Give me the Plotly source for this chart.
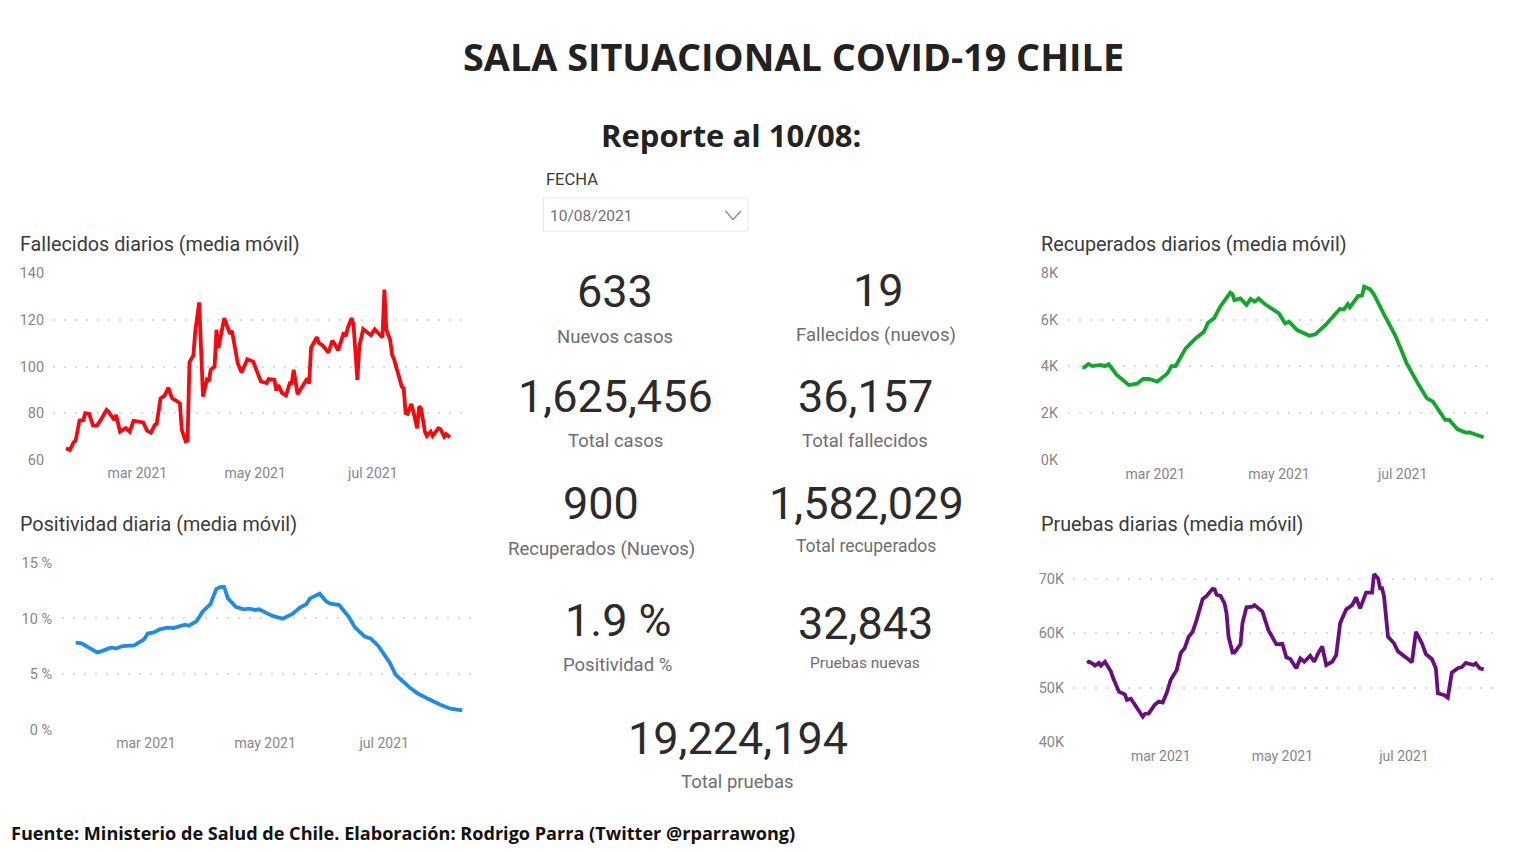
import pandas as pd
import plotly.graph_objects as go

W, H = 1517, 852
START = pd.Timestamp("2021-01-23")

# ---------- data: days since 2021-01-23, and the value read on that day ----------
fall_days = [0,2,4,5,7,9,10,12,14,16,18,21,22,25,26,28,31,33,35,40,42,44,46,47,49,51,53,55,57,59,60,62,63,64,66,67,69,71,73,74,75,77,78,79,82,85,86,89,91,94,97,101,104,105,108,109,110,112,114,116,117,118,120,123,125,126,127,130,131,133,136,138,139,141,144,145,146,148,149,151,152,154,158,160,164,165,166,168,169,170,174,175,176,177,179,180,182,183,184,186,187,189,190,193,194,196,197,199]
fall_vals = [65,64.3,67.6,68.3,76.9,77.1,80,79.7,74.7,74.7,77.1,81.4,80.7,77.1,79.3,72.1,73.6,72.1,76.7,76.1,72.6,71.7,75,75.4,86.4,87.4,90.9,86.4,85.4,84.3,72.9,68,68.3,101.9,104.7,115.1,127.4,87.1,94.3,93.6,98.6,100,115.7,107.9,120.7,114,115.3,101.4,97.4,103.1,102.1,93.6,92.9,94.6,94.3,89.7,92.1,88.6,87.6,92.9,92.9,98.6,88.1,92,94.9,92.7,108,112.6,110.1,109,106,111,110,106.9,114.6,112.9,116.4,120.7,117.9,94.3,108.6,116,113.4,115.9,112.4,132.9,115.7,111.4,105,103.1,91.4,90.7,80,79.7,84,80.7,73.6,82.9,82.1,72.1,70.3,72.1,70.3,73.6,73.3,70,71.1,69.7]

pos_days = [1,4,12,14,19,22,25,31,36,38,41,44,48,51,57,59,63,66,70,73,75,77,79,83,87,90,93,95,100,103,107,112,116,119,121,126,129,131,136,139,141,144,149,152,156,162,165,172,176,182,188,193,199]
pos_vals = [7.83,7.77,6.96,7.05,7.38,7.32,7.53,7.59,8.13,8.66,8.75,9.02,9.17,9.14,9.44,9.35,9.77,10.6,11.29,12.64,12.82,12.85,11.8,11.05,10.82,10.88,10.76,10.82,10.37,10.16,9.98,10.4,11,11.26,11.8,12.22,11.59,11.35,11.2,10.46,10.1,9.2,8.37,8.22,7.53,5.98,4.93,3.82,3.29,2.75,2.24,1.91,1.76]

rec_days = [1,2,4,6,10,12,14,18,21,24,28,31,34,38,43,45,47,52,57,61,63,66,69,74,75,76,79,82,84,86,88,91,98,101,103,107,113,116,121,128,130,132,133,137,139,140,143,145,150,155,158,161,167,171,174,180,182,186,190,192,199]
rec_vals = [3960,3960,4100,4010,4060,4010,4090,3630,3420,3200,3260,3460,3460,3350,3700,4010,4010,4770,5200,5480,5860,6050,6550,7150,7090,6830,6900,6620,6880,6760,6900,6660,6260,5840,5910,5550,5310,5370,5770,6450,6430,6660,6520,7000,7020,7400,7290,7050,6190,5380,4770,4130,3200,2630,2490,1710,1710,1320,1170,1180,970]

test_days = [0,1,3,4,6,7,9,12,13,16,19,20,22,25,28,29,31,34,36,38,40,42,45,47,49,51,53,55,58,60,63,64,65,67,69,70,71,73,74,77,78,80,83,84,85,88,91,95,98,100,102,105,107,109,112,114,116,118,120,123,125,127,130,133,135,137,140,143,144,146,147,148,149,151,154,156,160,163,165,168,170,173,175,176,179,181,183,186,188,190,194,195,197,199]
test_vals = [54600,54800,54400,54100,54600,54100,54800,53000,51900,49300,48800,47800,48000,46200,44700,45200,45300,46900,47500,47300,49100,51500,53300,56400,57300,59400,60300,62500,66300,66900,68200,68100,67100,66900,65500,63700,59400,56500,56500,58000,61900,64800,64900,65200,64900,64000,60600,58000,58100,55600,55300,53600,55400,54800,55900,54800,56400,57600,54200,54800,56000,61900,64400,65200,66600,64600,67500,67500,70900,70100,68300,68300,66800,59400,58200,56700,55600,54700,60300,58200,56200,55300,53600,49000,48700,48200,52800,53600,53800,54600,54200,54500,53600,53400]

month_ticks = ["2021-03-01", "2021-05-01", "2021-07-01"]
month_labels = ["mar 2021", "may 2021", "jul 2021"]

fall_ticks = [60, 80, 100, 120, 140]
fall_labels = ["60", "80", "100", "120", "140"]
pos_ticks = [0, 5, 10, 15]
pos_labels = ["0 %", "5 %", "10 %", "15 %"]
rec_ticks = [0, 2000, 4000, 6000, 8000]
rec_labels = ["0K", "2K", "4K", "6K", "8K"]
test_ticks = [40000, 50000, 60000, 70000]
test_labels = ["40K", "50K", "60K", "70K"]

RED, BLUE, GREEN, PURPLE = "#F20A0F", "#1E8CE6", "#0FA82A", "#680E7E"
BODY = "Roboto"
HEAD = "Open Sans"
INK = "#2b2b2b"
GREY = "#6e6e6e"
TICK = "#868686"

def dates(days):
    return [START + pd.Timedelta(days=int(d)) for d in days]

def fx(px): return px / W
def fy(py): return 1 - py / H

# panel geometry in page pixels: grid left/right, first/last data pixel, top/bottom of y range
# (the last panel's range runs on past its top tick, so that the 70.9K peak is not cut off)
panels = [
    dict(days=fall_days, vals=fall_vals, color=RED,    ticks=fall_ticks, labels=fall_labels, l=53,   r=462,  x0=66,    x1=450,    top=273,   bot=460,   yr=[60, 140],       ylen=5, xlen=0),
    dict(days=pos_days,  vals=pos_vals,  color=BLUE,   ticks=pos_ticks,  labels=pos_labels,  l=62,   r=477,  x0=73.7,  x1=462.3,  top=562.7, bot=730,   yr=[0, 15],         ylen=6, xlen=0),
    dict(days=rec_days,  vals=rec_vals,  color=GREEN,  ticks=rec_ticks,  labels=rec_labels,  l=1068, r=1497, x0=1080.3,x1=1483.7, top=272.7, bot=460,   yr=[0, 8000],       ylen=6, xlen=1),
    dict(days=test_days, vals=test_vals, color=PURPLE, ticks=test_ticks, labels=test_labels, l=1073, r=1497, x0=1087,  x1=1483.7, top=568.1, bot=742.3, yr=[40000, 72000],  ylen=5, xlen=1),
]

fig = go.Figure()
layout = {}
for i, p in enumerate(panels, start=1):
    s = "" if i == 1 else str(i)
    fig.add_trace(go.Scatter(
        x=dates(p["days"]), y=p["vals"], mode="lines", xaxis=f"x{s}", yaxis=f"y{s}",
        line=dict(color=p["color"], width=3.8, shape="linear"), showlegend=False,
        hoverinfo="skip", cliponaxis=False,
    ))
    per_day = (p["x1"] - p["x0"]) / 199
    rng = [START + pd.Timedelta(days=-(p["x0"] - p["l"]) / per_day),
           START + pd.Timedelta(days=199 + (p["r"] - p["x1"]) / per_day)]
    layout[f"xaxis{s}"] = dict(
        domain=[fx(p["l"]), fx(p["r"])], range=rng, type="date", anchor=f"y{s}",
        tickmode="array", tickvals=month_ticks, ticktext=month_labels,
        showgrid=False, zeroline=False, showline=False, automargin=False,
        ticks="outside", ticklen=p["xlen"], tickcolor="rgba(0,0,0,0)",
        tickfont=dict(family=BODY, size=14, color=TICK),
    )
    layout[f"yaxis{s}"] = dict(
        domain=[fy(p["bot"]), fy(p["top"])], range=p["yr"], anchor=f"x{s}",
        tickmode="array", tickvals=p["ticks"], ticktext=p["labels"],
        showgrid=True, gridcolor="#d9d9d9", griddash="2px,9px", gridwidth=2,
        zeroline=False, showline=False, automargin=False,
        ticks="outside", ticklen=p["ylen"], tickcolor="rgba(0,0,0,0)",
        tickfont=dict(family=BODY, size=14.5, color=TICK),
    )

# text: (string, x, y, size, colour, family, bold, anchor)
texts = [
    ("SALA SITUACIONAL COVID-19 CHILE", 793, 56, 37.8, "#222222", HEAD, True, "center"),
    ("Reporte al 10/08:", 731, 135, 31, "#222222", HEAD, True, "center"),
    ("FECHA", 544, 180, 16.5, "#3a3a3a", BODY, False, "left"),
    ("10/08/2021", 548, 216, 15.5, "#707070", BODY, False, "left"),
    ("Fallecidos diarios (media móvil)", 18, 244, 19.8, "#3a3a3a", BODY, False, "left"),
    ("Positividad diaria (media móvil)", 18, 524, 19.8, "#3a3a3a", BODY, False, "left"),
    ("Recuperados diarios (media móvil)", 1039, 244, 19.8, "#3a3a3a", BODY, False, "left"),
    ("Pruebas diarias (media móvil)", 1039, 524, 19.8, "#3a3a3a", BODY, False, "left"),
    ("633", 615, 291, 45, INK, BODY, False, "center"),
    ("Nuevos casos", 615, 337, 18.5, GREY, BODY, False, "center"),
    ("19", 878, 290, 45, INK, BODY, False, "center"),
    ("Fallecidos (nuevos)", 876, 335, 18.5, GREY, BODY, False, "center"),
    ("1,625,456", 615, 396, 45, INK, BODY, False, "center"),
    ("Total casos", 615, 441, 18.5, GREY, BODY, False, "center"),
    ("36,157", 865, 396, 45, INK, BODY, False, "center"),
    ("Total fallecidos", 865, 441, 18.5, GREY, BODY, False, "center"),
    ("900", 601, 503, 45, INK, BODY, False, "center"),
    ("Recuperados (Nuevos)", 601, 549, 18.5, GREY, BODY, False, "center"),
    ("1,582,029", 866, 503, 45, INK, BODY, False, "center"),
    ("Total recuperados", 866, 546, 17.5, GREY, BODY, False, "center"),
    ("1.9 %", 618, 620, 45, INK, BODY, False, "center"),
    ("Positividad %", 617, 665, 18.5, GREY, BODY, False, "center"),
    ("32,843", 865, 623, 45, INK, BODY, False, "center"),
    ("Pruebas nuevas", 865, 663, 15.5, GREY, BODY, False, "center"),
    ("19,224,194", 738, 738, 45, INK, BODY, False, "center"),
    ("Total pruebas", 737, 782, 18.5, GREY, BODY, False, "center"),
    ("Fuente: Ministerio de Salud de Chile. Elaboración: Rodrigo Parra (Twitter @rparrawong)", 9, 833, 18.1, "#111111", HEAD, True, "left"),
]
annotations = [
    dict(text=f"<b>{t}</b>" if bold else t, x=fx(x), y=fy(y), xref="paper", yref="paper",
         xanchor=anchor, yanchor="middle", showarrow=False,
         font=dict(size=size, color=color, family=fam))
    for t, x, y, size, color, fam, bold, anchor in texts
]

shapes = [
    dict(type="rect", xref="paper", yref="paper", x0=fx(543.5), x1=fx(748), y0=fy(231), y1=fy(198),
         line=dict(color="#e6e6e6", width=1), fillcolor="white"),
    dict(type="path", xref="paper", yref="paper",
         path=f"M {fx(725.5)} {fy(211)} L {fx(733)} {fy(219.5)} L {fx(741)} {fy(211)}",
         line=dict(color="#8a8a8a", width=1.3)),
]

fig.update_layout(
    template="none",
    width=W, height=H, margin=dict(l=0, r=0, t=0, b=0, pad=0, autoexpand=False),
    paper_bgcolor="white", plot_bgcolor="white",
    annotations=annotations, shapes=shapes, showlegend=False, **layout,
)
fig.write_html("out.html", config={"displayModeBar": False},
               post_script="document.body.style.margin='0';document.body.style.overflow='hidden';")
